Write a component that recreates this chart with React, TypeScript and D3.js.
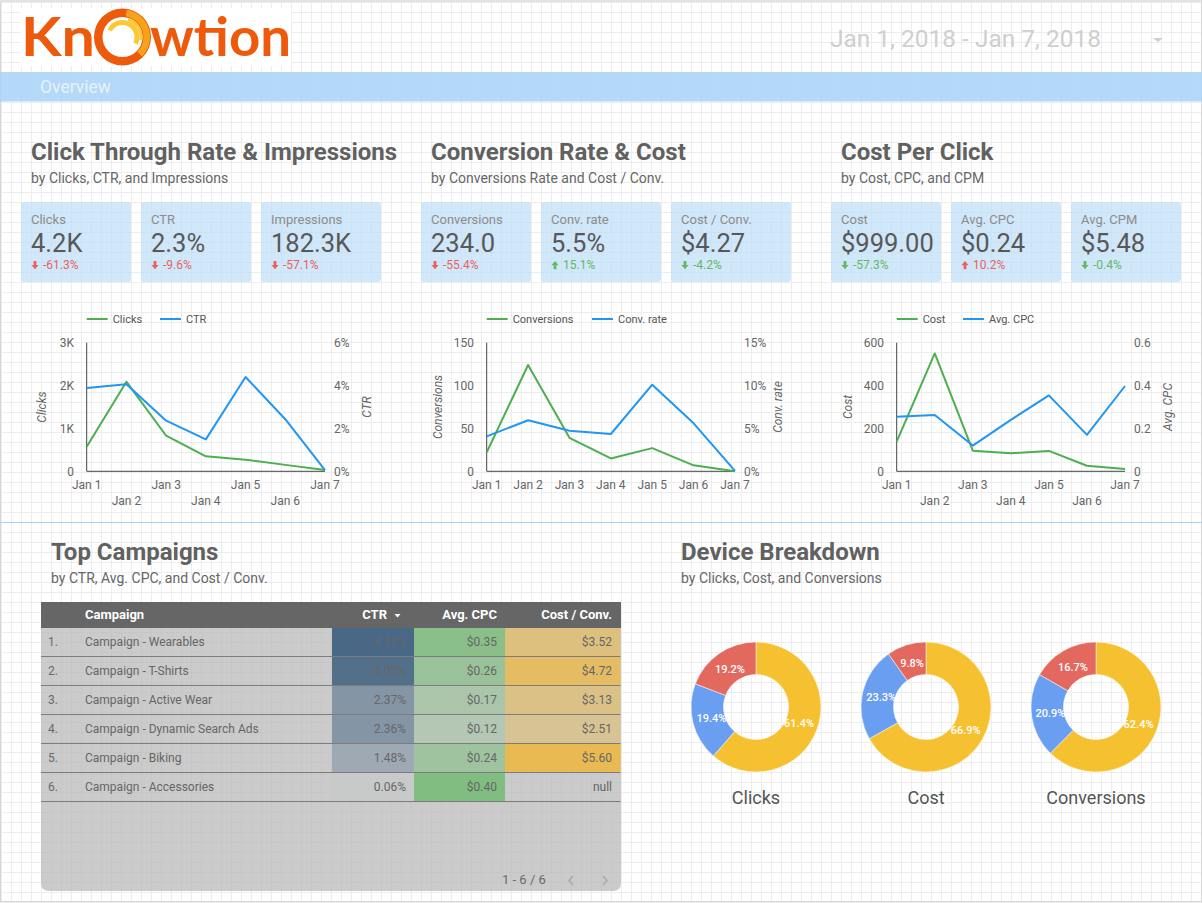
import React from "react";
import * as d3 from "d3";

// ---------- DATA ----------
const days = ["Jan 1", "Jan 2", "Jan 3", "Jan 4", "Jan 5", "Jan 6", "Jan 7"];
const clicks = [575, 2090, 830, 350, 270, 150, 30];
const ctr = [3.89, 4.06, 2.36, 1.49, 4.4, 2.43, 0.06];
const conversions = [22, 124, 39, 15, 27, 7, 0];
const convRate = [4.08, 5.95, 4.74, 4.35, 10.1, 5.6, 0.04];
const cost = [138, 550, 96, 84, 95, 26, 11];
const avgCpc = [0.255, 0.263, 0.12, 0.24, 0.354, 0.17, 0.398];

const kpiLabels = ["Clicks", "CTR", "Impressions", "Conversions", "Conv. rate", "Cost / Conv.", "Cost", "Avg. CPC", "Avg. CPM"];
const kpiValues = ["4.2K", "2.3%", "182.3K", "234.0", "5.5%", "$4.27", "$999.00", "$0.24", "$5.48"];
const kpiDeltas = [-61.3, -9.6, -57.1, -55.4, 15.1, -4.2, -57.3, 10.2, -0.4];
const kpiLowerIsBetter = [false, false, false, false, false, true, true, true, true];

const sectionTitles = ["Click Through Rate & Impressions", "Conversion Rate & Cost", "Cost Per Click"];
const sectionSubtitles = ["by Clicks, CTR, and Impressions", "by Conversions Rate and Cost / Conv.", "by Cost, CPC, and CPM"];

const campaigns = [
  "Campaign - Wearables",
  "Campaign - T-Shirts",
  "Campaign - Active Wear",
  "Campaign - Dynamic Search Ads",
  "Campaign - Biking",
  "Campaign - Accessories",
];
const campCtr = [4.38, 4.02, 2.37, 2.36, 1.48, 0.06];
const campCpc = [0.35, 0.26, 0.17, 0.12, 0.24, 0.4];
const campCostConv: (number | null)[] = [3.52, 4.72, 3.13, 2.51, 5.6, null];
const tableHeaders = ["Campaign", "CTR", "Avg. CPC", "Cost / Conv."];

const deviceNames = ["Clicks", "Cost", "Conversions"];
const deviceClicks = [61.4, 19.4, 19.2];
const deviceCost = [66.9, 23.3, 9.8];
const deviceConversions = [62.4, 20.9, 16.7];
const deviceColors = ["#f6c131", "#6a9ef1", "#e3695e"];

// ---------- LAYOUT ----------
const W = 1202;
const H = 903;
const FONT = "Roboto, 'Noto Sans', sans-serif";
const GREEN = "#4caf50";
const BLUE = "#2196f3";
const Y_TOP = 342.7;
const Y_BOTTOM = 471.3;

const kpiX = [21, 141, 261, 421, 541, 671, 831, 951, 1071];
const kpiW = [110, 110, 120, 110, 120, 120, 110, 110, 110];

type ChartCfg = {
  left: number;
  right: number;
  leftVals: number[];
  rightVals: number[];
  leftMax: number;
  rightMax: number;
  leftFmt: (d: number) => string;
  rightFmt: (d: number) => string;
  leftTitle: string;
  rightTitle: string;
  leftTitleX: number;
  rightTitleX: number;
  legend2X: number;
  stagger: boolean;
};

const charts: ChartCfg[] = [
  {
    left: 86.7, right: 325, leftVals: clicks, rightVals: ctr, leftMax: 3000, rightMax: 6,
    leftFmt: (d) => (d === 0 ? "0" : d / 1000 + "K"), rightFmt: (d) => d + "%",
    leftTitle: "Clicks", rightTitle: "CTR", leftTitleX: 42, rightTitleX: 367, legend2X: 160, stagger: true,
  },
  {
    left: 486.7, right: 735, leftVals: conversions, rightVals: convRate, leftMax: 150, rightMax: 15,
    leftFmt: (d) => String(d), rightFmt: (d) => d + "%",
    leftTitle: "Conversions", rightTitle: "Conv. rate", leftTitleX: 438, rightTitleX: 778, legend2X: 592, stagger: false,
  },
  {
    left: 896.7, right: 1125, leftVals: cost, rightVals: avgCpc, leftMax: 600, rightMax: 0.6,
    leftFmt: (d) => String(d), rightFmt: (d) => (d === 0 ? "0" : d.toFixed(1)),
    leftTitle: "Cost", rightTitle: "Avg. CPC", leftTitleX: 848, rightTitleX: 1168, legend2X: 963, stagger: true,
  },
];

function LineChart({ c }: { c: ChartCfg }) {
  const x = d3.scalePoint<string>().domain(days).range([c.left, c.right]);
  const yL = d3.scaleLinear().domain([0, c.leftMax]).range([Y_BOTTOM, Y_TOP]);
  const yR = d3.scaleLinear().domain([0, c.rightMax]).range([Y_BOTTOM, Y_TOP]);
  const lineL = d3.line<number>().x((_, i) => x(days[i])!).y((d) => yL(d));
  const lineR = d3.line<number>().x((_, i) => x(days[i])!).y((d) => yR(d));
  const midY = (Y_TOP + Y_BOTTOM) / 2;
  return (
    <g fontFamily={FONT}>
      {/* legend */}
      <line x1={c.left} x2={c.left + 21} y1={319} y2={319} stroke={GREEN} strokeWidth={2} />
      <text x={c.left + 26} y={323} fontSize={11} fill="#555">{c.leftTitle}</text>
      <line x1={c.legend2X} x2={c.legend2X + 21} y1={319} y2={319} stroke={BLUE} strokeWidth={2} />
      <text x={c.legend2X + 26} y={323} fontSize={11} fill="#555">{c.rightTitle}</text>
      {/* axes */}
      <line x1={c.left} x2={c.left} y1={Y_TOP} y2={Y_BOTTOM} stroke="#444" strokeWidth={1} />
      <line x1={c.left} x2={c.right} y1={Y_BOTTOM} y2={Y_BOTTOM} stroke="#444" strokeWidth={1} />
      {yL.ticks(3).map((t) => (
        <text key={"l" + t} x={c.left - 12.7} y={yL(t)} dy="0.36em" textAnchor="end" fontSize={12} fill="#666">
          {c.leftFmt(t)}
        </text>
      ))}
      {yR.ticks(3).map((t) => (
        <text key={"r" + t} x={c.right + 9} y={yR(t)} dy="0.36em" textAnchor="start" fontSize={12} fill="#666">
          {c.rightFmt(t)}
        </text>
      ))}
      {days.map((d, i) => (
        <text key={d} x={x(d)} y={c.stagger && i % 2 === 1 ? 505 : 489} textAnchor="middle" fontSize={12} fill="#666">
          {d}
        </text>
      ))}
      <text transform={`translate(${c.leftTitleX},${midY}) rotate(-90)`} textAnchor="middle" fontSize={12} fontStyle="italic" fill="#666" dy="0.35em">
        {c.leftTitle}
      </text>
      <text transform={`translate(${c.rightTitleX},${midY}) rotate(-90)`} textAnchor="middle" fontSize={12} fontStyle="italic" fill="#666" dy="0.35em">
        {c.rightTitle}
      </text>
      <path d={lineL(c.leftVals)!} fill="none" stroke={GREEN} strokeWidth={2} strokeLinejoin="round" />
      <path d={lineR(c.rightVals)!} fill="none" stroke={BLUE} strokeWidth={2} strokeLinejoin="round" />
    </g>
  );
}

function Kpi({ i }: { i: number }) {
  const x0 = kpiX[i];
  const d = kpiDeltas[i];
  const good = (d > 0) !== kpiLowerIsBetter[i];
  const col = good ? "#62bb62" : "#e8635f";
  const down = d < 0;
  const ax = x0 + 14;
  const arrow = down
    ? `M${ax - 1.4},261 h2.8 v4 h2.2 l-3.6,4.2 l-3.6,-4.2 h2.2 z`
    : `M${ax - 1.4},269.2 h2.8 v-4 h2.2 l-3.6,-4.2 l-3.6,4.2 h2.2 z`;
  return (
    <g fontFamily={FONT}>
      <rect x={x0} y={202} width={kpiW[i]} height={80} rx={3} fill="#b9daf8" opacity={0.65} />
      <text x={x0 + 10} y={223.5} fontSize={13} fill="#8c8c8c">{kpiLabels[i]}</text>
      <text x={x0 + 10} y={252} fontSize={25.5} fill="#585858">{kpiValues[i]}</text>
      <path d={arrow} fill={col} />
      <text x={x0 + 22} y={268.5} fontSize={12} fill={col}>{d.toFixed(1) + "%"}</text>
    </g>
  );
}

function Grid() {
  const xs = d3.range(1, W, 10);
  const ys = d3.range(2, H, 10);
  return (
    <g stroke="#ededed" strokeWidth={1}>
      {xs.map((x) => (
        <line key={"x" + x} x1={x + 0.5} x2={x + 0.5} y1={0} y2={H} />
      ))}
      {ys.map((y) => (
        <line key={"y" + y} x1={0} x2={W} y1={y + 0.5} y2={y + 0.5} />
      ))}
    </g>
  );
}

function Logo() {
  const cx = 122.5;
  const cy = 37;
  const arc = d3.arc();
  const orange = "#ee5a0c";
  return (
    <g>
      <rect x={21} y={8} width={270} height={58} fill="#fff" />
      <text x={21} y={56} fontFamily="Lato, 'Open Sans', sans-serif" fontWeight={700} fontSize={54} fill={orange} textLength={74} lengthAdjust="spacingAndGlyphs">Kn</text>
      <text x={150} y={56} fontFamily="Lato, 'Open Sans', sans-serif" fontWeight={700} fontSize={54} fill={orange} textLength={141} lengthAdjust="spacingAndGlyphs">wtion</text>
      <g transform={`translate(${cx},${cy})`}>
        <path d={arc({ innerRadius: 20, outerRadius: 28.5, startAngle: 0, endAngle: Math.PI * 2 })!} fill={orange} />
        <path d={arc({ innerRadius: 21, outerRadius: 27.5, startAngle: Math.PI * 0.05, endAngle: Math.PI * 0.75 })!} fill="#f7a21b" />
        <path d={arc({ innerRadius: 12, outerRadius: 17, startAngle: -Math.PI * 0.35, endAngle: Math.PI * 0.65 })!} fill="#fcc934" />
        <path d={arc({ innerRadius: 17, outerRadius: 20, startAngle: Math.PI * 0.1, endAngle: Math.PI * 0.55 })!} fill="#fcc934" />
      </g>
    </g>
  );
}

function Table() {
  const x0 = 41;
  const x1 = 621;
  const top = 602;
  const headH = 26;
  const rowH = 29;
  const bottom = 891;
  const colCtr = [332, 414];
  const colCpc = [414, 505];
  const colCc = [505, 620.5];
  const ctrColor = d3.scaleLinear<string>().domain([0, d3.max(campCtr)!]).range(["#cacaca", "#3d5f80"]);
  const cpcColor = d3.scaleLinear<string>().domain([0, d3.max(campCpc)!]).range(["#cacaca", "#7abc7a"]);
  const ccColor = d3.scaleLinear<string>().domain([0, d3.max(campCostConv as number[])!]).range(["#cacaca", "#ecb846"]);
  const r = 8;
  const bodyPath = `M${x0},${top} H${x1} V${bottom - r} Q${x1},${bottom} ${x1 - r},${bottom} H${x0 + r} Q${x0},${bottom} ${x0},${bottom - r} Z`;
  return (
    <g fontFamily={FONT}>
      <path d={bodyPath} fill="#b7b7b7" opacity={0.72} />
      <rect x={x0} y={top} width={x1 - x0} height={headH} fill="#666" />
      <text x={85} y={top + 17} fontSize={13} fontWeight={700} fill="#fff">{tableHeaders[0]}</text>
      <text x={387} y={top + 17} fontSize={13} fontWeight={700} fill="#fff" textAnchor="end">{tableHeaders[1]}</text>
      <path d={`M394.5,${top + 12} h6 l-3,3.5 z`} fill="#fff" />
      <text x={497} y={top + 17} fontSize={13} fontWeight={700} fill="#fff" textAnchor="end">{tableHeaders[2]}</text>
      <text x={612} y={top + 17} fontSize={13} fontWeight={700} fill="#fff" textAnchor="end">{tableHeaders[3]}</text>
      {campaigns.map((name, i) => {
        const y = top + headH + i * rowH;
        const cc = campCostConv[i];
        return (
          <g key={name}>
            <rect x={colCtr[0]} y={y} width={colCtr[1] - colCtr[0]} height={rowH} fill={ctrColor(campCtr[i])} opacity={0.92} />
            <rect x={colCpc[0]} y={y} width={colCpc[1] - colCpc[0]} height={rowH} fill={cpcColor(campCpc[i])} opacity={0.92} />
            {cc !== null && (
              <rect x={colCc[0]} y={y} width={colCc[1] - colCc[0]} height={rowH} fill={ccColor(cc)} opacity={0.92} />
            )}
            <line x1={x0} x2={colCc[1]} y1={y + rowH - 0.5} y2={y + rowH - 0.5} stroke="#7c7c7c" strokeWidth={1} />
            <text x={48} y={y + 18} fontSize={12} fill="#6a6a6a">{i + 1 + "."}</text>
            <text x={85} y={y + 18} fontSize={12} fill="#666">{name}</text>
            <text x={406} y={y + 18} fontSize={12} fill="#666" textAnchor="end">{campCtr[i].toFixed(2) + "%"}</text>
            <text x={497} y={y + 18} fontSize={12} fill="#666" textAnchor="end">{"$" + campCpc[i].toFixed(2)}</text>
            <text x={612} y={y + 18} fontSize={12} fill="#666" textAnchor="end">{cc === null ? "null" : "$" + cc.toFixed(2)}</text>
          </g>
        );
      })}
      <text x={502} y={884} fontSize={13} fill="#6a6a6a">{`1 - ${campaigns.length} / ${campaigns.length}`}</text>
      <path d="M573,876 l-4,4.5 l4,4.5" fill="none" stroke="#aaa" strokeWidth={1.5} />
      <path d="M603,876 l4,4.5 l-4,4.5" fill="none" stroke="#aaa" strokeWidth={1.5} />
    </g>
  );
}

function Donut({ values, cx, name }: { values: number[]; cx: number; name: string }) {
  const cy = 707;
  const pie = d3.pie<number>().sort(null).value((d) => d);
  const arcs = pie(values);
  const arc = d3.arc<d3.PieArcDatum<number>>().innerRadius(32.5).outerRadius(65);
  const labelArc = d3.arc<d3.PieArcDatum<number>>().innerRadius(46).outerRadius(46);
  return (
    <g transform={`translate(${cx},${cy})`} fontFamily={FONT}>
      {arcs.map((a, i) => (
        <path key={i} d={arc(a)!} fill={deviceColors[i]} stroke="#fff" strokeWidth={0.5} />
      ))}
      {arcs.map((a, i) => {
        const [lx, ly] = labelArc.centroid(a);
        return (
          <text key={"t" + i} x={lx} y={ly} dy="0.35em" textAnchor="middle" fontSize={11} fontWeight={500} fill="#fff">
            {a.data.toFixed(1) + "%"}
          </text>
        );
      })}
      <text x={0} y={97} textAnchor="middle" fontSize={18} fill="#555">{name}</text>
    </g>
  );
}

export default function App() {
  const sectionX = [31, 431, 841];
  const deviceData = [deviceClicks, deviceCost, deviceConversions];
  const donutX = [756, 926, 1096];
  return (
    <svg width={W} height={H} style={{ position: "absolute", left: 0, top: 0, background: "#fff" }} fontFamily={FONT}>
      <rect x={0} y={0} width={W} height={H} fill="#fff" />
      <Grid />
      <rect x={0.5} y={0.5} width={W - 1} height={H - 2} fill="none" stroke="#d6d6d6" />
      <rect x={0} y={0} width={W} height={2} fill="#e2e2e2" />
      <Logo />
      <text x={830} y={47} fontSize={23} fill="#cfcfcf" textLength={271} lengthAdjust="spacingAndGlyphs">Jan 1, 2018 - Jan 7, 2018</text>
      <path d="M1153,38 h10 l-5,4 z" fill="#cfcfcf" />
      <rect x={0} y={72} width={W} height={29.5} fill="#a8d2f7" opacity={0.85} />
      <text x={40} y={93} fontSize={17.5} fill="#e8f2fc">Overview</text>

      {sectionTitles.map((t, i) => (
        <g key={t}>
          <text x={sectionX[i]} y={160} fontSize={24} fontWeight={700} fill="#616161">{t}</text>
          <text x={sectionX[i]} y={183} fontSize={14} fill="#666">{sectionSubtitles[i]}</text>
        </g>
      ))}
      {kpiLabels.map((_, i) => (
        <Kpi key={i} i={i} />
      ))}
      {charts.map((c, i) => (
        <LineChart key={i} c={c} />
      ))}

      <line x1={0} x2={W} y1={522.5} y2={522.5} stroke="#a9d3f5" strokeWidth={1} />

      <text x={51} y={560} fontSize={24} fontWeight={700} fill="#616161">Top Campaigns</text>
      <text x={51} y={583} fontSize={14} fill="#666">by CTR, Avg. CPC, and Cost / Conv.</text>
      <text x={681} y={560} fontSize={24} fontWeight={700} fill="#616161">Device Breakdown</text>
      <text x={681} y={583} fontSize={14} fill="#666">by Clicks, Cost, and Conversions</text>

      <Table />
      {deviceNames.map((n, i) => (
        <Donut key={n} values={deviceData[i]} cx={donutX[i]} name={n} />
      ))}
    </svg>
  );
}
